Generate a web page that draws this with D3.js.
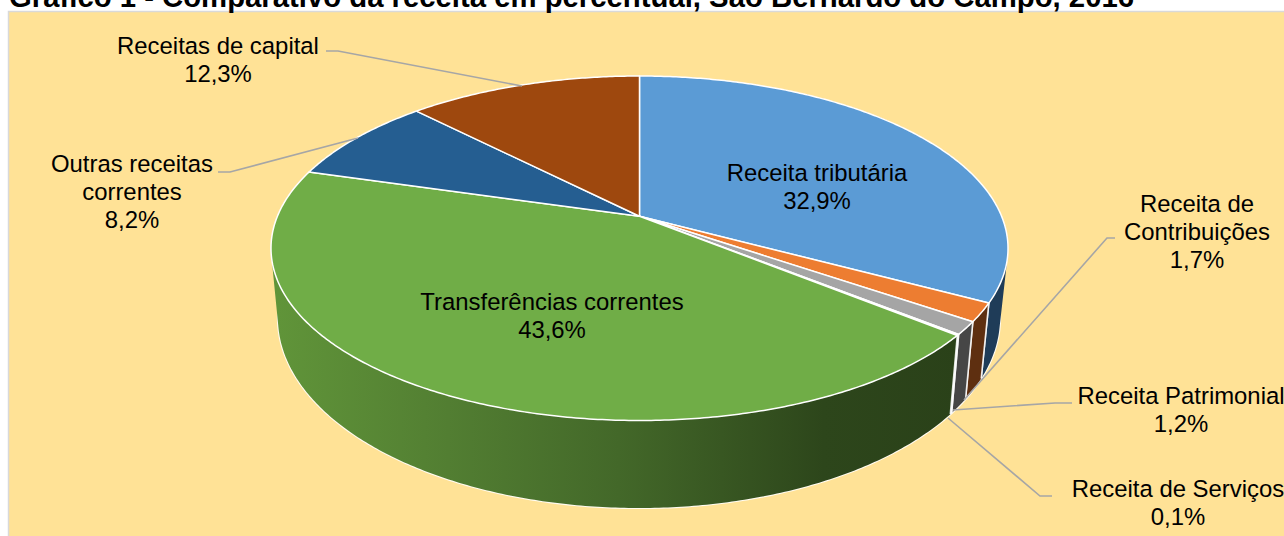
<!DOCTYPE html>
<html><head><meta charset="utf-8">
<script src="https://cdn.jsdelivr.net/npm/d3@7"></script>
<style>html,body{margin:0;padding:0;background:#fff;overflow:hidden}svg{display:block}text{font-family:"Liberation Sans",Arial,sans-serif}</style>
</head><body><svg id="c" width="1284" height="536"></svg>
<script>
const titleText = "Gráfico 1 - Comparativo da receita em percentual, São Bernardo do Campo, 2016";
const categories = ["Receita tributária","Receita de Contribuições","Receita Patrimonial","Receita de Serviços","Transferências correntes","Outras receitas correntes","Receitas de capital"];
const values = [32.9,1.7,1.2,0.1,43.6,8.2,12.3];
const topColors = ["#5b9bd5","#ed7d31","#a5a5a5","#4472c4","#70ad47","#255e91","#9e480e"];
const sideColors = ["#1f3c58","#5e2f10","#464646","#c9d6ee","url(#greenWall)","#16385a","#5e2b08"];
const labelLines = [
  ["Receita tributária","32,9%"],
  ["Receita de","Contribuições","1,7%"],
  ["Receita Patrimonial","1,2%"],
  ["Receita de Serviços","0,1%"],
  ["Transferências correntes","43,6%"],
  ["Outras receitas","correntes","8,2%"],
  ["Receitas de capital","12,3%"]
];
const labelCenters = [[817,173],[1197,204],[1181,396],[1178,489],[552,302],[132,164],[218,46]];
const leaders = [
  null,
  [[1115,238],[1107,238],[964,400]],
  [[1072,403],[1055,403],[953,410]],
  [[1052,496],[1040,496],[948,418]],
  null,
  [[218,172],[230,172],[358,138]],
  [[326,51],[338,51],[522,86]]
];

const svg = d3.select("#c");
svg.append("rect").attr("x",8.5).attr("y",11.5).attr("width",1290).attr("height",540)
  .attr("fill","#ffe296").attr("stroke","#d9d9d9").attr("stroke-width",1.5);
svg.append("text").attr("x",9).attr("y",7).attr("font-size",29.3).attr("font-weight","bold").attr("fill","#000").text(titleText);

const APEX = -0.186;
const topX = d3.scaleLinear().domain([-1,1]).range([271,1008]);
const topY = d3.scaleLinear().domain([-1,1]).range([76,420.5]);
const botX = d3.scaleLinear().domain([-1,1]).range([278,1000]);
const botY = d3.scaleLinear().domain([-1,1]).range([128,508]);

// perspective: angle on the pie's circle -> unit-disc point with the centre pulled toward the far side
function disc(a){
  const x=Math.sin(a), y=-Math.cos(a), w=1+APEX*y;
  return [x*Math.sqrt(1-APEX*APEX)/w,(y+APEX)/w];
}
const onTop=a=>{const p=disc(a);return [topX(p[0]),topY(p[1])];};
const onBot=a=>{const p=disc(a);return [botX(p[0]),botY(p[1])];};
const apex=[topX(0),topY(APEX)];
const samples=(a0,a1)=>{const n=Math.max(2,Math.ceil((a1-a0)/0.01));return d3.range(n+1).map(i=>a0+(a1-a0)*i/n);};
const line=d3.line();

const arcs=d3.pie().sort(null).value(d=>d)(values);
const defs=svg.append("defs");
const g=defs.append("linearGradient").attr("id","greenWall").attr("gradientUnits","userSpaceOnUse")
  .attr("x1",278).attr("x2",960).attr("y1",0).attr("y2",0);
[[0,"#609439"],[0.25,"#527e32"],[0.5,"#436829"],[0.8,"#2d461b"],[1,"#2a4119"]].forEach(s=>g.append("stop").attr("offset",s[0]).attr("stop-color",s[1]));

// one wall = union of small quads, so the silhouette between both rims is filled
function wallPath(a0,a1){
  const s=samples(a0,a1); let out="";
  for(let k=0;k<s.length-1;k++){
    let q=[onTop(s[k]),onTop(s[k+1]),onBot(s[k+1]),onBot(s[k])];
    if(d3.polygonArea(q)<0) q=q.reverse();
    out+=line(q)+"Z";
  }
  return out;
}

const chart=svg.append("g");
const wallOrder=[5,6,0,1,2,3,4];
// white rim under the walls, only its outer half shows
chart.append("path").attr("d",line(samples(1.2,5.0).map(onBot))).attr("fill","none").attr("stroke","#fff").attr("stroke-opacity",0.85).attr("stroke-width",2.2);
// walls
wallOrder.forEach(i=>{
  const d=arcs[i];
  chart.append("path").attr("d",wallPath(d.startAngle,d.endAngle)).attr("fill",sideColors[i]);
  // white divider edges at the slice ends
  [d.startAngle,d.endAngle].forEach(a=>{
    if(a>0.5&&a<4.9) chart.append("path").attr("d",line([onTop(a),onBot(a)])).attr("stroke","#fff").attr("stroke-width",1.6).attr("stroke-opacity",0.85).attr("fill","none");
  });
});
// top faces
arcs.forEach((d,i)=>{
  const pts=[apex].concat(samples(d.startAngle,d.endAngle).map(onTop));
  chart.append("path").attr("d",line(pts)+"Z").attr("fill",topColors[i]).attr("stroke","#fff").attr("stroke-width",1.5).attr("stroke-linejoin","round");
});
// leaders
leaders.forEach(l=>{ if(l) svg.append("path").attr("d",line(l)).attr("fill","none").attr("stroke","#a6a6a6").attr("stroke-width",1.6); });
// labels
labelLines.forEach((ls,i)=>{
  const t=svg.append("text").attr("text-anchor","middle").attr("font-size",23.9).attr("fill","#000");
  ls.forEach((s,j)=>t.append("tspan").attr("x",labelCenters[i][0]).attr("y",labelCenters[i][1]+8+j*28).text(s));
});
</script></body></html>
